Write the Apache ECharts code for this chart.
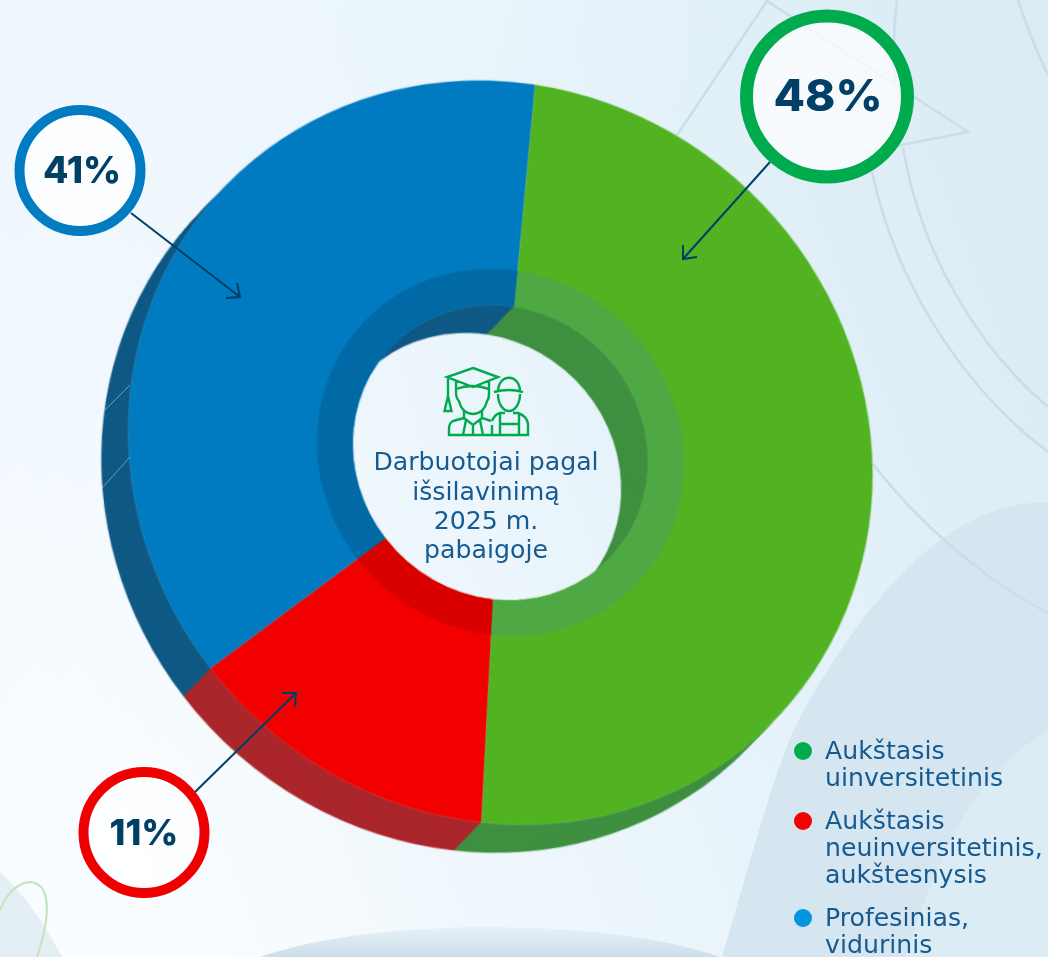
<!DOCTYPE html>
<html><head><meta charset="utf-8">
<style>
html,body{margin:0;padding:0;width:1048px;height:957px;overflow:hidden;background:#eef7fc}
#bg,#pies,#overlay{position:absolute;left:0;top:0;width:1048px;height:957px}
#pies{transform-origin:500.5px 452.5px;transform:matrix(0.9975,0.0295,0.0295,0.9975,0,0)}
</style>
<script src="https://cdn.jsdelivr.net/npm/echarts@6/dist/echarts.min.js"></script>
</head><body>
<svg id="bg" viewBox="0 0 1048 957" xmlns="http://www.w3.org/2000/svg">
  <defs>
    <linearGradient id="g1" x1="0" y1="0.6" x2="1" y2="0.25">
      <stop offset="0" stop-color="#fafdff"/><stop offset="0.5" stop-color="#e9f4fb"/><stop offset="1" stop-color="#dbecf5"/>
    </linearGradient>
    <linearGradient id="g2" x1="0" y1="0" x2="0" y2="1">
      <stop offset="0" stop-color="#e6f1f7"/><stop offset="0.4" stop-color="#b4cada"/><stop offset="1" stop-color="#b4cada"/>
    </linearGradient>
    <linearGradient id="g3" x1="0" y1="0" x2="0.5" y2="0.35">
      <stop offset="0" stop-color="#eef7fe" stop-opacity="1"/><stop offset="1" stop-color="#eef7fe" stop-opacity="0"/>
    </linearGradient>
  </defs>
  <rect width="1048" height="957" fill="url(#g1)"/>
  <rect width="1048" height="957" fill="url(#g3)"/>
  <path d="M1048 503 C945 498 860 610 800 717 C775 765 745 880 722 957 H1048Z" fill="#d5e6f0"/>
  <path d="M1048 730 C985 770 955 820 925 900 L905 957 H1048Z" fill="#dcecf5"/>
  <ellipse cx="490" cy="1000" rx="285" ry="73" fill="url(#g2)"/>
  <path d="M0 872 C25 895 45 925 62 957 H0Z" fill="#e3eff4"/>
  <path d="M0 910 C10 885 30 875 42 888 C50 900 48 925 37 957" fill="none" stroke="#c6e4c2" stroke-width="2.2"/>
  <g fill="none" stroke="#cbdde8" stroke-width="2.6">
    <path d="M677 135 L767 1 L968 132 L865 152"/>
    <path d="M897 0 C893 30 893 60 896 88"/>
    <path d="M1018 0 C1028 30 1038 55 1048 75"/>
    <path d="M872 172 C895 280 960 385 1048 452"/>
    <path d="M903 147 C920 250 975 345 1048 407"/>
    <path d="M873 464 C920 525 985 580 1048 613"/>
  </g>
</svg>
<div id="pies"></div>
<div id="overlay"></div>
<script>
// Data
const categories = ['Aukštasis\nuinversitetinis', 'Aukštasis\nneuinversitetinis,\naukštesnysis', 'Profesinias,\nvidurinis'];
const shareLabels = ['48%', '11%', '41%'];
const sliceSharesDrawn = [49.35, 13.4, 37.25];
const centerLines = ['Darbuotojai pagal', 'išsilavinimą', '2025 m.', 'pabaigoje'];

const faceColors = ['#52b322', '#f20000', '#007bc1'];
const wallColors = ['#3f9040', '#ab262b', '#0f5a85'];
const ringColors = ['#4ea945', '#d90000', '#0169a6'];
const legendColors = ['#00ab4e', '#f40000', '#0097dd'];
const calloutColors = ['#00ab4e', '#ef0000', '#017bc1'];

const BODY_FONT = '"DejaVu Sans", sans-serif';
const BOLD_FONT = 'Inter, "Open Sans", sans-serif';
const INK = '#155a91', DARK = '#003f66';
const cx = 500.5, cy = 452.5, R = 373, rHole = 148, rRing = 184;
const depthX = -28, depthY = 29, steps = 29;

function pieData(colors){
  return sliceSharesDrawn.map((v,i)=>({value:v,name:categories[i],itemStyle:{color:colors[i]}}));
}
function pie(center, radius, colors, extra){
  return Object.assign({
    type:'pie', center, radius, startAngle:83, clockwise:true, silent:true, animation:false,
    label:{show:false}, labelLine:{show:false}, emphasis:{disabled:true}, data:pieData(colors)
  }, extra||{});
}
const series = [];
for(let s=steps;s>=1;s--){
  series.push(pie([cx+depthX*s/steps, cy+depthY*s/steps],[rHole,R],wallColors));
}
series.push(pie([cx,cy],[rHole,R],faceColors,{itemStyle:{borderColor:'rgba(255,255,255,0.22)',borderWidth:0.6}}));
series.push(pie([cx,cy],[rHole,rRing],ringColors));

// centre icon
const iconPath = 'M473 368L498 377L473 387L447 377Z M448 377V396 M448 396L444.5 411H451.5Z '
 + 'M456 381V392C456 397 457 399 459 401C461 410 467 414 473 414C479 414 485 410 487 401C489 399 489 397 489 392V381 M456 389Q472 383 489 389 '
 + 'M464 411V418L453 421Q449 423 449 429V435H528V424Q527 416 518 413H513 M482 411V418L491 421 M505 413H500Q495 414 492 421 '
 + 'M464 418L473 425L482 418 M473 425V435 M466 420L463 435 M480 420L483 435 M492 435V425 '
 + 'M494 392Q509 388 523 392 M498 392C498 373 520 373 520 392 M498 394C498 404 503 411 509 411C515 411 520 404 520 394 '
 + 'M500 414V424H519V414 M500 424V435 M519 424V435';
const overlaySeries = [{type:'custom',coordinateSystem:'none',silent:true,animation:false,data:[0],
  renderItem:()=>({type:'path',shape:{pathData:iconPath,x:444.5,y:368,width:83.5,height:67,layout:'cover'},style:{fill:null,stroke:'#00ab4e',lineWidth:2.4}})}];

const g = [];
// wall seams
[[130,385,105,410],[130,457,102,488]].forEach(p=>g.push({type:'line',shape:{x1:p[0],y1:p[1],x2:p[2],y2:p[3]},style:{stroke:'rgba(255,255,255,0.4)',lineWidth:1}}));

// centre text
centerLines.forEach((t,i)=>g.push({type:'text',x:486,y:464+i*29.4,scaleX:1.05,style:{text:t,fill:INK,font:'400 24px '+BODY_FONT,textAlign:'center',textVerticalAlign:'middle'}}));

// callouts: order follows shareLabels
const callouts = [
  {c:[827,96.5],r:80.5,w:13,fs:44,sx:1.04,t:[828,98],line:[770,162,683,259],head:[683,245,683,259,697,257]},
  {c:[144,832.5],r:60.5,w:10,fs:36,sx:1,t:[144,834],line:[195,792,296,693],head:[282,693,296,693,295,707]},
  {c:[80,170.5],r:60.5,w:10,fs:37,sx:1,t:[82,172],line:[131,213,240,297],head:[226,298,240,297,237,283]}
];
callouts.forEach((k,i)=>{
  g.push({type:'line',shape:{x1:k.line[0],y1:k.line[1],x2:k.line[2],y2:k.line[3]},style:{stroke:DARK,lineWidth:2}});
  g.push({type:'polyline',shape:{points:[[k.head[0],k.head[1]],[k.head[2],k.head[3]],[k.head[4],k.head[5]]]},style:{stroke:DARK,lineWidth:2,fill:null}});
  g.push({type:'circle',shape:{cx:k.c[0],cy:k.c[1],r:k.r},style:{fill:'rgba(255,255,255,0.72)',stroke:calloutColors[i],lineWidth:k.w}});
  g.push({type:'text',x:k.t[0],y:k.t[1],scaleX:k.sx,style:{text:shareLabels[i],fill:DARK,font:'800 '+k.fs+'px '+BOLD_FONT,textAlign:'center',textVerticalAlign:'middle'}});
});

// legend
let ly = 737.5;
categories.forEach((name,i)=>{
  const n = name.split('\n').length;
  g.push({type:'circle',shape:{cx:803,cy:ly+13.5,r:9},style:{fill:legendColors[i]}});
  g.push({type:'text',x:825,y:ly+2,scaleX:1.05,style:{text:name,fill:INK,font:'400 24px '+BODY_FONT,lineHeight:27,textAlign:'left',textVerticalAlign:'top'}});
  ly += n*27+16;
});

echarts.init(document.getElementById('pies'),null,{renderer:'canvas',width:1048,height:957})
  .setOption({animation:false,backgroundColor:'transparent',series});
echarts.init(document.getElementById('overlay'),null,{renderer:'canvas',width:1048,height:957})
  .setOption({animation:false,backgroundColor:'transparent',series:overlaySeries,graphic:{elements:g}});
</script>
</body></html>
